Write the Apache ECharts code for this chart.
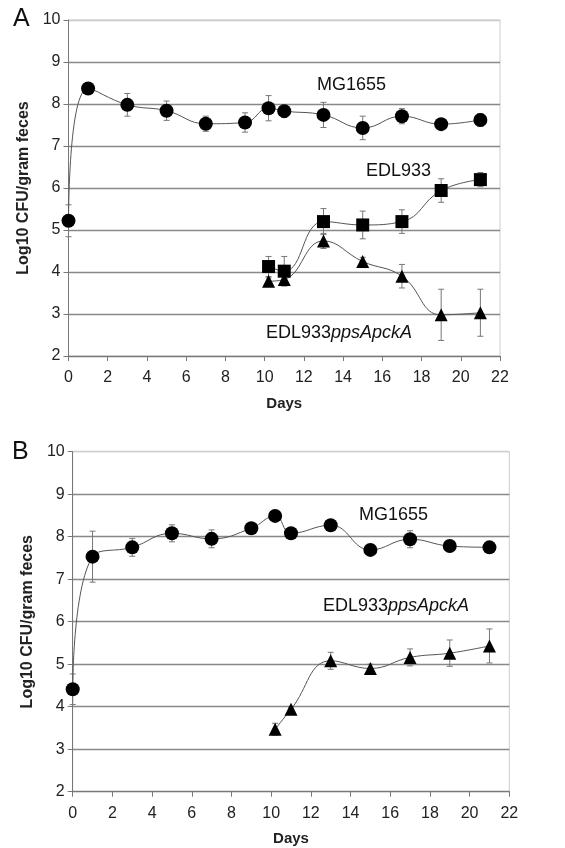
<!DOCTYPE html>
<html>
<head>
<meta charset="utf-8">
<script src="https://cdn.jsdelivr.net/npm/echarts@6/dist/echarts.min.js"></script>
<style>
  html, body { margin: 0; padding: 0; background: #fff; }
  #main { width: 565px; height: 848px; }
</style>
</head>
<body>
<div id="main"></div>
<script>
// days sampled
const mgDays = [0, 1, 3, 5, 7, 9, 10.2, 11, 13, 15, 17, 19, 21];
const edlDays = [10.2, 11, 13, 15, 17, 19, 21];
const xTicks = [0, 2, 4, 6, 8, 10, 12, 14, 16, 18, 20, 22];

// panel A
const mgA = [5.22, 8.37, 7.98, 7.84, 7.53, 7.56, 7.90, 7.83, 7.74, 7.43, 7.71, 7.52, 7.62];
const mgAErr = [0.38, 0, 0.27, 0.23, 0.18, 0.23, 0.30, 0.15, 0.30, 0.28, 0.18, 0.07, 0.15];
const edlA = [4.13, 4.02, 5.20, 5.12, 5.20, 5.94, 6.20];
const edlAErr = [0.24, 0.35, 0.31, 0.33, 0.28, 0.28, 0.17];
const ppsA = [3.78, 3.82, 4.74, 4.25, 3.90, 2.98, 3.03];
const ppsAErr = [0.08, 0.15, 0.18, 0.10, 0.28, 0.61, 0.56];

// panel B
const mgB = [4.41, 7.53, 7.75, 8.08, 7.95, 8.20, 8.49, 8.08, 8.27, 7.69, 7.94, 7.78, 7.75];
const mgBErr = [0.36, 0.60, 0.21, 0.20, 0.21, 0, 0, 0, 0, 0.05, 0.20, 0.05, 0.05];
const ppsB = [3.47, 3.94, 5.08, 4.90, 5.16, 5.26, 5.43];
const ppsBErr = [0.14, 0.05, 0.20, 0.10, 0.20, 0.31, 0.40];

const FONT = 'Liberation Sans';
const chart = echarts.init(document.getElementById('main'));

function pts(x, y) {
  return x.map((d, i) => [d, y[i]]);
}

function lineSeries(x, y, symbol, size, idx) {
  return {
    type: 'line',
    xAxisIndex: idx, yAxisIndex: idx,
    data: pts(x, y),
    smooth: 0.45,
    symbol: symbol,
    symbolSize: size,
    showSymbol: true,
    itemStyle: {color: '#000'},
    lineStyle: {color: '#555', width: 1},
    z: 3,
    silent: true,
    clip: false
  };
}

function errSeries(x, y, e, idx) {
  return {
    type: 'custom',
    xAxisIndex: idx, yAxisIndex: idx,
    data: x.map((d, i) => [d, y[i] - e[i], y[i] + e[i]]),
    encode: {x: 0, y: [1, 2]},
    z: 2,
    silent: true,
    renderItem: (params, api) => {
      const lo = api.coord([api.value(0), api.value(1)]);
      const hi = api.coord([api.value(0), api.value(2)]);
      const st = {stroke: '#777', lineWidth: 1};
      return {
        type: 'group',
        children: [
          {type: 'line', shape: {x1: lo[0], y1: lo[1], x2: hi[0], y2: hi[1]}, style: st},
          {type: 'line', shape: {x1: hi[0] - 3, y1: hi[1], x2: hi[0] + 3, y2: hi[1]}, style: st},
          {type: 'line', shape: {x1: lo[0] - 3, y1: lo[1], x2: lo[0] + 3, y2: lo[1]}, style: st}
        ]
      };
    }
  };
}

function xAx(idx) {
  return {
    gridIndex: idx,
    type: 'value',
    min: 0, max: 22, interval: 2,
    name: 'Days',
    nameLocation: 'middle',
    nameGap: 40,
    nameTextStyle: {fontFamily: FONT, fontWeight: 'bold', fontSize: 15, color: '#222'},
    axisLine: {lineStyle: {color: '#777'}},
    axisTick: {show: true, length: 5, lineStyle: {color: '#777'}},
    axisLabel: {fontFamily: FONT, fontSize: 16, color: '#222', margin: 14},
    splitLine: {show: false}
  };
}

function yAx(idx) {
  return {
    gridIndex: idx,
    type: 'value',
    min: 2, max: 10, interval: 1,
    name: 'Log10 CFU/gram feces',
    nameLocation: 'middle',
    nameGap: 29,
    nameTextStyle: {fontFamily: FONT, fontWeight: 'bold', fontSize: 16, color: '#222'},
    axisLine: {show: true, lineStyle: {color: '#777'}},
    axisTick: {show: true, length: 5, lineStyle: {color: '#777'}},
    axisLabel: {fontFamily: FONT, fontSize: 16, color: '#222', margin: 8},
    splitLine: {
      show: true,
      lineStyle: {color: ['#888', '#888', '#888', '#888', '#888', '#888', '#888', '#888', '#ccc'], width: 1.3}
    }
  };
}

const rich = {
  n: {fontFamily: FONT, fontSize: 18, color: '#111'},
  i: {fontFamily: FONT, fontSize: 18, fontStyle: 'italic', color: '#111'}
};

function label(x, y, text) {
  return {
    type: 'text', left: x, top: y,
    style: {text: text, rich: rich, font: '18px ' + FONT, fill: '#111'}
  };
}

chart.setOption({
  backgroundColor: '#fff',
  animation: false,
  grid: [
    {left: 68.5, right: 65, top: 20, height: 336, show: true, borderColor: '#ccc', borderWidth: 1},
    {left: 72.7, right: 55.7, top: 451.7, height: 340, show: true, borderColor: '#ccc', borderWidth: 1}
  ],
  xAxis: [xAx(0), xAx(1)],
  yAxis: [yAx(0), yAx(1)],
  graphic: [
    {type: 'text', left: 13, top: 7, style: {text: 'A', font: '25px ' + FONT, fill: '#111'}},
    {type: 'text', left: 12, top: 440, style: {text: 'B', font: '25px ' + FONT, fill: '#111'}},
    label(317, 76, '{n|MG1655}'),
    label(366, 162, '{n|EDL933}'),
    label(266, 324, '{n|EDL933}{i|ppsApckA}'),
    label(359, 506, '{n|MG1655}'),
    label(323, 597, '{n|EDL933}{i|ppsApckA}')
  ],
  series: [
    errSeries(mgDays, mgA, mgAErr, 0),
    errSeries(edlDays, edlA, edlAErr, 0),
    errSeries(edlDays, ppsA, ppsAErr, 0),
    lineSeries(mgDays, mgA, 'circle', 14, 0),
    lineSeries(edlDays, edlA, 'rect', 13, 0),
    lineSeries(edlDays, ppsA, 'triangle', 13, 0),
    errSeries(mgDays, mgB, mgBErr, 1),
    errSeries(edlDays, ppsB, ppsBErr, 1),
    lineSeries(mgDays, mgB, 'circle', 14, 1),
    lineSeries(edlDays, ppsB, 'triangle', 13, 1)
  ]
});
</script>
</body>
</html>
